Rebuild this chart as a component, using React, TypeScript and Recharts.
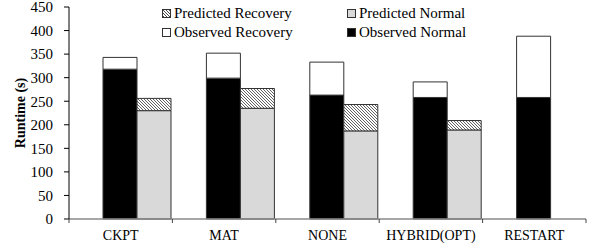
import { BarChart, Bar, XAxis, YAxis } from 'recharts'

// Runtime by recovery strategy: observed vs. predicted, split normal / recovery
const categories = ['CKPT', 'MAT', 'NONE', 'HYBRID(OPT)', 'RESTART']
const observedNormal = [318, 299, 263, 258, 258]
const observedRecovery = [25, 53, 70, 33, 130]
const predictedNormal = [230, 235, 187, 189, null]
const predictedRecovery = [26, 42, 56, 20, null]
const yTicks = [0, 50, 100, 150, 200, 250, 300, 350, 400, 450]

const data = categories.map((name, i) => ({
  name,
  spacer: 0,
  obsNormal: observedNormal[i],
  obsRecovery: observedRecovery[i],
  predNormal: predictedNormal[i],
  predRecovery: predictedRecovery[i],
}))

const FONT = '"Liberation Serif", "Times New Roman", serif'
const W = 592
const H = 245
const PLOT_LEFT = 69
const PLOT_RIGHT = 586
const band = (PLOT_RIGHT - PLOT_LEFT) / categories.length

function CategoryTick(props: any) {
  const { x, y, payload, index } = props
  const left = x - band / 2
  const isLast = index === categories.length - 1
  return (
    <g>
      <line x1={left} y1={y - 8} x2={left} y2={y - 4} stroke="#444" />
      {isLast && <line x1={x + band / 2} y1={y - 8} x2={x + band / 2} y2={y - 4} stroke="#444" />}
      <text x={x} y={y + 13} textAnchor="middle" fontFamily={FONT} fontSize={14} fill="#000">
        {payload.value}
      </text>
    </g>
  )
}

const legendItems = [
  { label: 'Predicted Recovery', fill: 'url(#hatchIcon)', left: 162, top: 5 },
  { label: 'Observed Recovery', fill: '#fff', left: 162, top: 24 },
  { label: 'Predicted Normal', fill: '#d9d9d9', left: 347, top: 5 },
  { label: 'Observed Normal', fill: '#000', left: 347, top: 24 },
]

function LegendBox() {
  return (
    <div style={{ position: 'absolute', left: 0, top: 0, width: W, height: 40, pointerEvents: 'none' }}>
      {legendItems.map((item) => (
        <div
          key={item.label}
          style={{
            position: 'absolute',
            left: item.left,
            top: item.top,
            display: 'flex',
            alignItems: 'center',
            fontFamily: FONT,
            fontSize: 15,
            lineHeight: '16px',
            color: '#000',
            whiteSpace: 'nowrap',
          }}
        >
          <svg width={9} height={9} style={{ marginRight: 3 }}>
            <defs>
              <pattern id="hatchIcon" width="3" height="3" patternUnits="userSpaceOnUse">
                <rect width="3" height="3" fill="#fff" />
                <path d="M-1,-1 L4,4 M-1,2 L1,4 M2,-1 L4,1" stroke="#333" strokeWidth="0.9" />
              </pattern>
            </defs>
            <rect x={0.5} y={0.5} width={8} height={8} fill={item.fill} stroke="#333" strokeWidth={1} />
          </svg>
          {item.label}
        </div>
      ))}
    </div>
  )
}

export default function App() {
  return (
    <div style={{ position: 'absolute', left: 0, top: 0, width: W, height: H, background: '#fff' }}>
      <BarChart
        width={W}
        height={H}
        data={data}
        margin={{ top: 7, right: W - PLOT_RIGHT, bottom: 0, left: 0 }}
        barCategoryGap={0}
        barGap={0}
      >
        <defs>
          <pattern id="hatch" width="3" height="3" patternUnits="userSpaceOnUse">
            <rect width="3" height="3" fill="#fff" />
            <path d="M-1,-1 L4,4 M-1,2 L1,4 M2,-1 L4,1" stroke="#444" strokeWidth="0.85" />
          </pattern>
        </defs>
        <XAxis
          dataKey="name"
          height={26}
          axisLine={{ stroke: '#888', strokeWidth: 1.5 }}
          tickLine={false}
          tick={<CategoryTick />}
          interval={0}
        />
        <YAxis
          width={PLOT_LEFT}
          domain={[0, 450]}
          ticks={yTicks}
          interval={0}
          axisLine={{ stroke: '#000' }}
          tickLine={{ stroke: '#000' }}
          tickSize={5}
          tickMargin={11}
          tick={{ fontFamily: FONT, fontSize: 15, fill: '#000' }}
          label={() => (
            <text
              x={20}
              y={113}
              transform="rotate(-90, 20, 113)"
              textAnchor="middle"
              dominantBaseline="central"
              fontFamily={FONT}
              fontSize={14}
              fontWeight="bold"
              fill="#000"
            >
              Runtime (s)
            </text>
          )}
        />
        <Bar dataKey="spacer" stackId="blank" fill="none" isAnimationActive={false} />
        <Bar dataKey="obsNormal" stackId="obs" fill="#000" stroke="#333" strokeWidth={1} isAnimationActive={false} />
        <Bar dataKey="obsRecovery" stackId="obs" fill="#fff" stroke="#333" strokeWidth={1} isAnimationActive={false} />
        <Bar dataKey="predNormal" stackId="pred" fill="#d9d9d9" stroke="#333" strokeWidth={1} isAnimationActive={false} />
        <Bar dataKey="predRecovery" stackId="pred" fill="url(#hatch)" stroke="#333" strokeWidth={1} isAnimationActive={false} />
      </BarChart>
      <LegendBox />
    </div>
  )
}
